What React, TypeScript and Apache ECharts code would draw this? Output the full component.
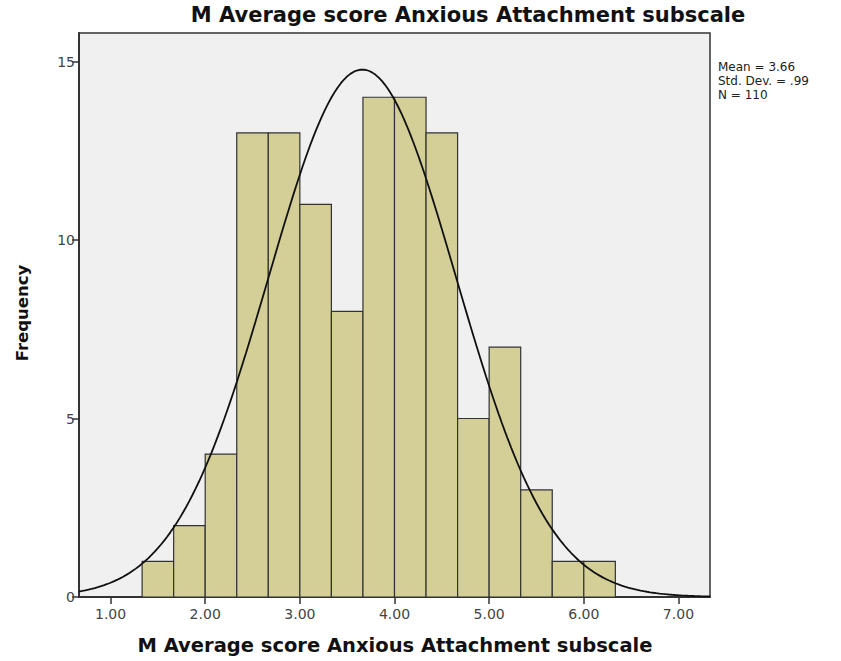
import React, { useEffect, useRef } from "react";
import * as echarts from "echarts";

const binStart = 4 / 3;
const binWidth = 1 / 3;
const frequencies = [1, 2, 4, 13, 13, 11, 8, 14, 14, 13, 5, 7, 3, 1, 1];
const xTickValues = [1, 2, 3, 4, 5, 6, 7];
const statsMean = 3.66;
const statsSd = 0.99;
const statsN = 110;
const titleText = "M Average score Anxious Attachment subscale";
const xAxisTitle = "M Average score Anxious Attachment subscale";
const yAxisTitle = "Frequency";

const boldFont = '"DejaVu Sans", sans-serif';

export default function App() {
  const ref = useRef<HTMLDivElement>(null);
  useEffect(() => {
    if (!ref.current) return;
    const chart = echarts.init(ref.current, null, { renderer: "svg" });
    const bars = frequencies.map((f, i) => [binStart + i * binWidth, binStart + (i + 1) * binWidth, f]);
    const xMin = 2 / 3;
    const xMax = 22 / 3;
    const curve: number[][] = [];
    const steps = 200;
    for (let k = 0; k <= steps; k++) {
      const x = xMin + ((xMax - xMin) * k) / steps;
      const z = (x - statsMean) / statsSd;
      const y = (statsN * binWidth) / (statsSd * Math.sqrt(2 * Math.PI)) * Math.exp(-0.5 * z * z);
      curve.push([x, y]);
    }
    chart.setOption({
      animation: false,
      grid: {
        left: 79,
        top: 33,
        width: 631,
        height: 564,
        show: true,
        backgroundColor: "#f0f0f0",
        borderColor: "#333",
        borderWidth: 1.5,
      },
      xAxis: {
        type: "value",
        min: xMin,
        max: xMax,
        splitLine: { show: false },
        axisLine: { show: true, onZero: false, lineStyle: { color: "#333", width: 2 } },
        axisTick: { show: true, customValues: xTickValues, length: 7, lineStyle: { color: "#333", width: 1.5 } },
        axisLabel: {
          customValues: xTickValues,
          formatter: (v: number) => v.toFixed(2),
          color: "#444",
          fontSize: 14,
          fontFamily: "DejaVu Sans",
          margin: 10,
        },
      },
      yAxis: {
        type: "value",
        min: 0,
        max: 15.8,
        interval: 5,
        splitLine: { show: false },
        axisLine: { show: true, lineStyle: { color: "#333", width: 2 } },
        axisTick: { show: true, length: 7, lineStyle: { color: "#333", width: 1.5 } },
        axisLabel: {
          color: "#444",
          fontSize: 14,
          fontFamily: "DejaVu Sans",
          margin: 4,
          showMaxLabel: false,
        },
      },
      graphic: [
        {
          type: "text",
          x: 468,
          y: 4,
          style: { text: titleText, font: `bold 21px ${boldFont}`, fill: "#111", textAlign: "center", textVerticalAlign: "top" },
        },
        {
          type: "text",
          x: 395,
          y: 645,
          style: { text: xAxisTitle, font: `bold 19.5px ${boldFont}`, fill: "#111", textAlign: "center", textVerticalAlign: "middle" },
        },
        {
          type: "text",
          x: 22,
          y: 313,
          rotation: Math.PI / 2,
          style: { text: yAxisTitle, font: `bold 16.5px ${boldFont}`, fill: "#111", textAlign: "center", textVerticalAlign: "middle" },
        },
        {
          type: "text",
          x: 718,
          y: 60,
          style: {
            text: `Mean = ${statsMean.toFixed(2)}\nStd. Dev. = ${statsSd.toFixed(2).replace(/^0/, "")}\nN = ${statsN}`,
            font: "12px DejaVu Sans",
            fill: "#222",
            lineHeight: 14,
          },
        },
      ],
      series: [
        {
          type: "custom",
          data: bars,
          renderItem: (params: any, api: any) => {
            const p0 = api.coord([api.value(0), api.value(2)]);
            const p1 = api.coord([api.value(1), 0]);
            return {
              type: "rect",
              shape: { x: p0[0], y: p0[1], width: p1[0] - p0[0], height: p1[1] - p0[1] },
              style: { fill: "#d3cf96", stroke: "#333", lineWidth: 1.2 },
            };
          },
          encode: { x: [0, 1], y: 2 },
          z: 2,
        },
        {
          type: "line",
          data: curve,
          showSymbol: false,
          smooth: false,
          lineStyle: { color: "#111", width: 1.8 },
          z: 3,
        },
      ],
    });
    return () => chart.dispose();
  }, []);
  return <div ref={ref} style={{ position: "absolute", left: 0, top: 0, width: 841, height: 661 }} />;
}
